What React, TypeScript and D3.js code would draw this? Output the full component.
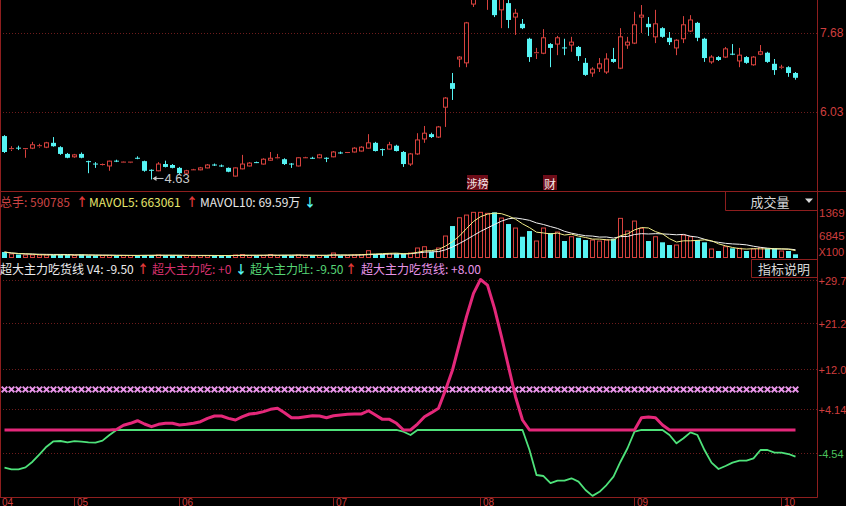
import React from "react";
import * as d3 from "d3";

// ---------- DATA ----------
const openP = [
  5.53, 5.25, 5.29, 5.26, 5.28, 5.31, 5.30, 5.39, 5.30, 5.16,
  5.10, 5.16, 5.01, 4.96, 4.93, 4.91, 5.02, 4.98, 4.98, 5.08,
  5.01, 4.83, 4.81, 4.95, 4.93, 4.87, 4.76, 4.82, 4.83, 4.87,
  4.94, 4.92, 4.87, 4.70, 4.85, 4.91, 4.99, 4.95, 5.03, 5.07,
  5.05, 4.96, 4.91, 5.07, 5.08, 5.08, 5.08, 5.10, 5.19, 5.18,
  5.20, 5.22, 5.28, 5.39, 5.26, 5.26, 5.33, 5.20, 4.95, 5.16,
  5.47, 5.57, 5.51, 6.13, 6.63, 7.13, 7.05, 8.27, 8.45, 8.40,
  8.40, 8.15, 8.29, 8.00, 7.86, 7.55, 7.24, 7.25, 7.44, 7.44,
  7.37, 7.42, 7.38, 7.05, 6.84, 6.94, 6.86, 7.13, 6.94, 7.42,
  7.46, 8.00, 7.86, 7.59, 7.77, 7.57, 7.36, 7.55, 7.71, 7.88,
  7.55, 7.07, 7.17, 7.17, 7.24, 7.09, 7.17, 7.01, 7.23, 7.26,
  7.03, 6.95, 6.96, 6.84,
];
const highP = [
  5.55, 5.32, 5.33, 5.28, 5.41, 5.37, 5.41, 5.51, 5.32, 5.18,
  5.16, 5.19, 5.02, 4.99, 4.96, 5.02, 5.04, 5.00, 4.99, 5.11,
  5.02, 4.84, 4.99, 5.02, 4.95, 4.89, 4.83, 4.85, 4.89, 4.95,
  4.96, 4.94, 4.88, 4.88, 5.14, 4.99, 5.00, 5.07, 5.20, 5.16,
  5.07, 4.97, 5.09, 5.10, 5.10, 5.16, 5.09, 5.22, 5.21, 5.20,
  5.30, 5.32, 5.57, 5.41, 5.27, 5.41, 5.35, 5.22, 5.18, 5.59,
  5.74, 5.60, 5.74, 6.34, 6.84, 7.19, 7.90, 8.50, 8.80, 8.70,
  8.50, 8.50, 8.36, 8.17, 7.96, 7.57, 7.36, 7.75, 7.46, 7.61,
  7.55, 7.59, 7.40, 7.15, 6.96, 7.15, 7.25, 7.36, 7.77, 7.59,
  8.11, 8.25, 8.00, 8.15, 7.79, 7.69, 7.54, 8.02, 8.04, 7.90,
  7.57, 7.21, 7.19, 7.38, 7.44, 7.36, 7.19, 7.19, 7.42, 7.28,
  7.13, 7.01, 6.98, 6.86,
];
const lowP = [
  5.18, 5.22, 5.24, 5.08, 5.26, 5.29, 5.28, 5.31, 5.14, 5.07,
  5.08, 5.07, 4.76, 4.87, 4.91, 4.81, 4.99, 4.97, 4.98, 5.05,
  4.79, 4.63, 4.80, 4.88, 4.86, 4.74, 4.74, 4.81, 4.82, 4.86,
  4.91, 4.89, 4.78, 4.69, 4.84, 4.90, 4.97, 4.94, 5.02, 5.05,
  4.93, 4.87, 4.90, 5.06, 5.06, 5.07, 4.99, 5.09, 5.16, 5.17,
  5.19, 5.21, 5.27, 5.21, 5.12, 5.25, 5.21, 4.89, 4.91, 5.14,
  5.39, 5.49, 5.49, 5.72, 6.28, 6.96, 6.96, 8.21, 8.40, 8.15,
  8.00, 7.77, 7.77, 7.63, 7.75, 7.07, 7.13, 7.23, 6.96, 7.21,
  7.21, 7.28, 7.09, 6.78, 6.76, 6.86, 6.82, 7.05, 6.92, 7.34,
  7.44, 7.67, 7.61, 7.46, 7.57, 7.42, 7.21, 7.46, 7.69, 7.50,
  7.07, 7.03, 7.09, 7.15, 7.21, 6.96, 7.03, 6.99, 7.21, 7.05,
  6.80, 6.92, 6.76, 6.70,
];
const closeP = [
  5.20, 5.27, 5.27, 5.27, 5.35, 5.33, 5.39, 5.32, 5.16, 5.08,
  5.14, 5.08, 4.99, 4.95, 4.94, 5.01, 5.01, 4.99, 4.99, 5.07,
  4.81, 4.82, 4.95, 4.89, 4.87, 4.76, 4.81, 4.83, 4.87, 4.93,
  4.93, 4.91, 4.79, 4.87, 4.95, 4.97, 4.98, 5.05, 5.07, 5.08,
  4.95, 4.95, 5.08, 5.08, 5.07, 5.14, 5.07, 5.20, 5.18, 5.19,
  5.28, 5.30, 5.39, 5.22, 5.25, 5.35, 5.22, 4.95, 5.16, 5.45,
  5.59, 5.51, 5.72, 6.32, 6.51, 7.17, 7.88, 8.45, 8.70, 8.60,
  8.04, 8.40, 7.94, 8.08, 7.77, 7.17, 7.26, 7.57, 7.36, 7.57,
  7.36, 7.48, 7.19, 6.80, 6.92, 7.03, 7.13, 7.07, 7.59, 7.48,
  7.84, 8.04, 7.79, 7.86, 7.59, 7.48, 7.52, 7.84, 7.94, 7.57,
  7.15, 7.17, 7.11, 7.34, 7.23, 7.21, 7.05, 7.17, 7.28, 7.07,
  6.90, 6.96, 6.84, 6.74,
];
// volume, in units of 100 hands
const volume = [
  1760, 1180, 1030, 880, 880, 880, 880, 880, 1030, 880,
  735, 1030, 735, 735, 735, 735, 735, 735, 735, 735,
  880, 880, 880, 735, 735, 735, 735, 590, 735, 735,
  735, 735, 735, 880, 1030, 735, 735, 735, 1030, 735,
  880, 735, 880, 735, 735, 735, 735, 1470, 735, 735,
  880, 1030, 2150, 1180, 1180, 1320, 1320, 1320, 1470, 2940,
  3320, 1850, 2940, 6470, 9410, 11850, 12640, 13440, 13440, 13140,
  13440, 11760, 10000, 8820, 6260, 7940, 5000, 8820, 7350, 7640,
  5000, 6260, 5970, 5290, 5290, 5000, 5290, 5590, 11670, 7940,
  10880, 8730, 5000, 6260, 4620, 3820, 3820, 6760, 6260, 5290,
  4620, 2650, 2060, 3320, 2850, 2850, 2060, 2650, 3030, 2850,
  2850, 2060, 2060, 1090,
];
// 超大主力 flow (positive = 吃, negative = 吐)
const flow = [
  -7.44, -7.76, -7.76, -7.37, -6.26, -4.8, -3.3, -2.23, -2.17, -2.43,
  -2.2, -2.3, -2.43, -2.5, -2.1, -0.99, 0.1, 0.93, 1.32, 1.83,
  1.18, 0.65, 1.12, 1.32, 1.32, 0.98, 1.12, 1.32, 1.64, 2.3,
  2.76, 2.76, 2.3, 1.97, 2.62, 3.16, 3.29, 3.62, 4.08, 4.28,
  3.42, 2.43, 2.43, 2.62, 2.82, 2.76, 2.43, 2.82, 2.96, 3.1,
  3.16, 3.16, 3.8, 2.96, 2.1, 2.1, 1.32, -0.34, -0.99, 1.18,
  2.62, 3.42, 4.28, 7.9, 11.84, 17.1, 22.36, 26.97, 29.7, 28.6,
  24.0, 18.4, 12.5, 6.57, 1.97, -3.95, -8.88, -9.08, -10.5, -10.0,
  -10.0, -9.53, -10.2, -11.85, -13.0, -12.2, -10.86, -9.2, -6.26, -3.6,
  -0.34, 2.43, 2.56, 2.43, 0.98, -0.99, -2.63, -1.64, -0.46, -0.99,
  -3.95, -6.45, -7.7, -7.1, -6.45, -6.06, -6.06, -5.6, -3.95, -3.95,
  -4.48, -4.48, -4.74, -5.27,
];
const eatLineValue = 8.0;

const priceTicks = [7.68, 6.03];
const priceTickLabels = ["7.68", "6.03"];
const volTicks = [13690, 6845];
const volTickLabels = ["1369", "6845"];
const indTicks = [29.7, 21.2, 12.0, 4.14, -4.54];
const indTickLabels = ["+29.7", "+21.2", "+12.0", "+4.14", "-4.54"];
const months = ["04", "05", "06", "07", "08", "09", "10"];
const monthIdx = [0, 10, 25, 47, 68, 90, 111];
const lowMarkIdx = 21;
const lowMarkLabel = "4.63";

// ---------- STYLE ----------
const RED = "#d8423e";
const CYAN = "#56f4f4";
const GRID = "#6e1c1c";
const AXIS = "#8e1e1e";
const LABEL_RED = "#cf3e3e";
const PINK = "#e4287a";
const GREEN = "#4ee27a";
const VIOLET = "#e794e7";
const CJK = "'Noto Sans CJK SC', 'Noto Sans', sans-serif";
const NUMF = "'Liberation Sans', Arial, sans-serif";

const n = closeP.length;
const AX = 817.5;

function movingAvg(arr: number[], k: number) {
  return arr.map((_, i) => {
    const s = Math.max(0, i - k + 1);
    return d3.mean(arr.slice(s, i + 1)) as number;
  });
}

export default function App() {
  const x = d3.scaleLinear().domain([0, n - 1]).range([4, 795]);
  const yP = d3.scaleLinear().domain([6.03, 7.68]).range([112, 32.5]);
  const yV = d3.scaleLinear().domain([0, 13690]).range([258, 211.5]);
  const yI = d3.scaleLinear().domain([-4.54, 29.7]).range([453, 279.5]);

  const cx = (i: number) => Math.round(x(i)) + 0.5;

  const ma5 = movingAvg(volume, 5);
  const ma10 = movingAvg(volume, 10);
  const vLine = d3.line<number>().x((_, i) => cx(i)).y((d) => yV(d));
  const iLine = d3.line<number>().x((_, i) => cx(i)).y((d) => yI(d));
  const pink = flow.map((v) => Math.max(v, 0));
  const green = flow.map((v) => Math.min(v, 0));

  const candles = closeP.map((c, i) => {
    const o = openP[i];
    const up = c >= o;
    const col = up ? RED : CYAN;
    const X = cx(i);
    const top = yP(Math.max(o, c));
    const bot = yP(Math.min(o, c));
    const h = Math.max(1, bot - top);
    const yh = yP(highP[i]);
    const yl = yP(lowP[i]);
    if (up) {
      return (
        <g key={i}>
          <line x1={X} x2={X} y1={yh} y2={top} stroke={col} />
          <line x1={X} x2={X} y1={top + h} y2={yl} stroke={col} />
          {h <= 1.5 ? (
            <line x1={X - 2.5} x2={X + 2.5} y1={top} y2={top} stroke={col} />
          ) : (
            <rect x={X - 2} y={top} width={4} height={h} fill="none" stroke={col} />
          )}
        </g>
      );
    }
    return (
      <g key={i}>
        <line x1={X} x2={X} y1={yh} y2={yl} stroke={col} />
        <rect x={X - 2.5} y={top} width={5} height={h} fill={col} />
      </g>
    );
  });

  const vbars = volume.map((v, i) => {
    const up = closeP[i] >= openP[i];
    const X = cx(i);
    const top = yV(v);
    const h = 258 - top;
    return up ? (
      <rect key={i} x={X - 2} y={top} width={4} height={Math.max(0.5, h - 0.5)} fill="none" stroke={RED} />
    ) : (
      <rect key={i} x={X - 2.5} y={top} width={5} height={h} fill={CYAN} />
    );
  });

  const crosses = flow.map((_, i) => {
    const X = cx(i);
    const Y = yI(eatLineValue);
    return (
      <path
        key={i}
        d={`M${X - 2.8},${Y - 2.8}L${X + 2.8},${Y + 2.8}M${X + 2.8},${Y - 2.8}L${X - 2.8},${Y + 2.8}`}
        stroke={VIOLET}
        strokeWidth={2}
      />
    );
  });

  const lowX = cx(lowMarkIdx);
  const lowY = yP(lowP[lowMarkIdx]) - 1;

  return (
    <svg
      width={846}
      height={506}
      style={{ position: "absolute", left: 0, top: 0, display: "block", background: "#000" }}
    >
      <rect x={0} y={0} width={846} height={506} fill="#000" />

      {/* grid lines */}
      {priceTicks.map((t, k) => (
        <line key={"pg" + k} x1={0} x2={AX} y1={Math.round(yP(t)) + 0.5} y2={Math.round(yP(t)) + 0.5} stroke={GRID} strokeDasharray="1 2" />
      ))}
      {indTicks.map((t, k) => (
        <line key={"ig" + k} x1={0} x2={AX} y1={Math.round(yI(t)) + 0.5} y2={Math.round(yI(t)) + 0.5} stroke={GRID} strokeDasharray="1 2" />
      ))}

      {/* frame */}
      <line x1={0.5} x2={0.5} y1={0} y2={497.5} stroke={AXIS} />
      <line x1={AX} x2={AX} y1={0} y2={497.5} stroke={AXIS} />
      <line x1={0} x2={846} y1={191.5} y2={191.5} stroke={AXIS} />
      <line x1={0} x2={AX} y1={497.5} y2={497.5} stroke={AXIS} />

      {/* candles */}
      <g>{candles}</g>

      {/* low marker */}
      <g fill="#c8c8c8" stroke="#c8c8c8">
        <line x1={lowX + 2} x2={lowX + 12} y1={lowY} y2={lowY} strokeWidth={1} />
        <path d={`M${lowX + 1},${lowY}L${lowX + 5},${lowY - 2.5}L${lowX + 5},${lowY + 2.5}Z`} stroke="none" />
      </g>
      <text x={lowX + 13} y={lowY} dominantBaseline="central" fontFamily={NUMF} fontSize={13} fill="#c8c8c8">
        {lowMarkLabel}
      </text>

      {/* event markers */}
      <rect x={467} y={175} width={21} height={15} fill="#6e0c18" />
      <text x={477.5} y={183} textAnchor="middle" dominantBaseline="central" fontFamily={CJK} fontSize={11} fill="#f4e6e6">
        涉榜
      </text>
      <rect x={543} y={175} width={14} height={15} fill="#6e0c18" />
      <text x={550} y={183} textAnchor="middle" dominantBaseline="central" fontFamily={CJK} fontSize={12} fill="#f4e6e6">
        财
      </text>

      {/* price axis labels */}
      {priceTicks.map((t, k) => (
        <text key={"pl" + k} x={820} y={yP(t)} dominantBaseline="central" fontFamily={NUMF} fontSize={12} fill={LABEL_RED}>
          {priceTickLabels[k]}
        </text>
      ))}

      {/* volume panel */}
      <g>{vbars}</g>
      <path d={vLine(ma10) || ""} fill="none" stroke="#f2f2f2" strokeWidth={1} />
      <path d={vLine(ma5) || ""} fill="none" stroke="#f2ee8a" strokeWidth={1} />
      {volTicks.map((t, k) => (
        <text key={"vl" + k} x={819} y={yV(t) + 1} dominantBaseline="central" fontFamily={NUMF} fontSize={11.5} fill={LABEL_RED}>
          {volTickLabels[k]}
        </text>
      ))}
      <text x={818.5} y={252} dominantBaseline="central" fontFamily={NUMF} fontSize={11} fill={LABEL_RED}>
        X100
      </text>

      {/* 成交量 box */}
      <path d={`M725.5,191.5V210.5H${AX}`} fill="none" stroke={AXIS} />
      <text x={770} y={201} textAnchor="middle" dominantBaseline="central" fontFamily={CJK} fontSize={13} fill="#d8d8d8">
        成交量
      </text>
      <path d="M805,198.5L813,198.5L809,203Z" fill="#d8d8d8" />

      {/* volume legend */}
      <g fontFamily={CJK} fontSize={12}>
        <text x={0} y={201} dominantBaseline="central" fill="#cc4444">总手: 590785</text>
        <text x={76} y={201} dominantBaseline="central" fill="#e03a3a" fontWeight="bold">↑</text>
        <text x={89} y={201} dominantBaseline="central" fill="#e6e66c">MAVOL5: 663061</text>
        <text x={186} y={201} dominantBaseline="central" fill="#e03a3a" fontWeight="bold">↑</text>
        <text x={200} y={201} dominantBaseline="central" fill="#e8e8e8">MAVOL10: 69.59万</text>
        <text x={304} y={201} dominantBaseline="central" fill={CYAN} fontWeight="bold">↓</text>
      </g>

      {/* 指标说明 box */}
      <path d={`M${AX},259.5H751.5V277.5H${AX}`} fill="none" stroke={AXIS} />
      <text x={784} y={268.5} textAnchor="middle" dominantBaseline="central" fontFamily={CJK} fontSize={13} fill="#d8d8d8">
        指标说明
      </text>

      {/* indicator legend */}
      <g fontFamily={CJK} fontSize={12}>
        <text x={0} y={268.5} dominantBaseline="central" fill="#ececec">超大主力吃货线 V4: -9.50</text>
        <text x={137} y={268.5} dominantBaseline="central" fill="#e03a3a" fontWeight="bold">↑</text>
        <text x={152} y={268.5} dominantBaseline="central" fill="#d6306e">超大主力吃: +0</text>
        <text x={235} y={268.5} dominantBaseline="central" fill={CYAN} fontWeight="bold">↓</text>
        <text x={250} y={268.5} dominantBaseline="central" fill="#56d676">超大主力吐: -9.50</text>
        <text x={345} y={268.5} dominantBaseline="central" fill="#e03a3a" fontWeight="bold">↑</text>
        <text x={361} y={268.5} dominantBaseline="central" fill={VIOLET}>超大主力吃货线: +8.00</text>
      </g>

      {/* indicator lines */}
      <g>{crosses}</g>
      <path d={iLine(green) || ""} fill="none" stroke={GREEN} strokeWidth={1.8} strokeLinejoin="round" />
      <path d={iLine(pink) || ""} fill="none" stroke={PINK} strokeWidth={3} strokeLinejoin="round" />

      {/* indicator axis labels */}
      {indTicks.map((t, k) => (
        <text
          key={"il" + k}
          x={818.5}
          y={yI(t) + 1}
          dominantBaseline="central"
          fontFamily={NUMF}
          fontSize={11}
          fill={t < 0 ? "#4cc25c" : LABEL_RED}
        >
          {indTickLabels[k]}
        </text>
      ))}

      {/* month axis */}
      {monthIdx.map((mi, k) => {
        const X = cx(mi);
        return (
          <g key={"m" + k}>
            {k > 0 && <line x1={X} x2={X} y1={497.5} y2={506} stroke={AXIS} />}
            <text x={k === 0 ? 2 : X + 2.5} y={505.5} fontFamily={NUMF} fontSize={10} fill={LABEL_RED}>
              {months[k]}
            </text>
          </g>
        );
      })}
    </svg>
  );
}
